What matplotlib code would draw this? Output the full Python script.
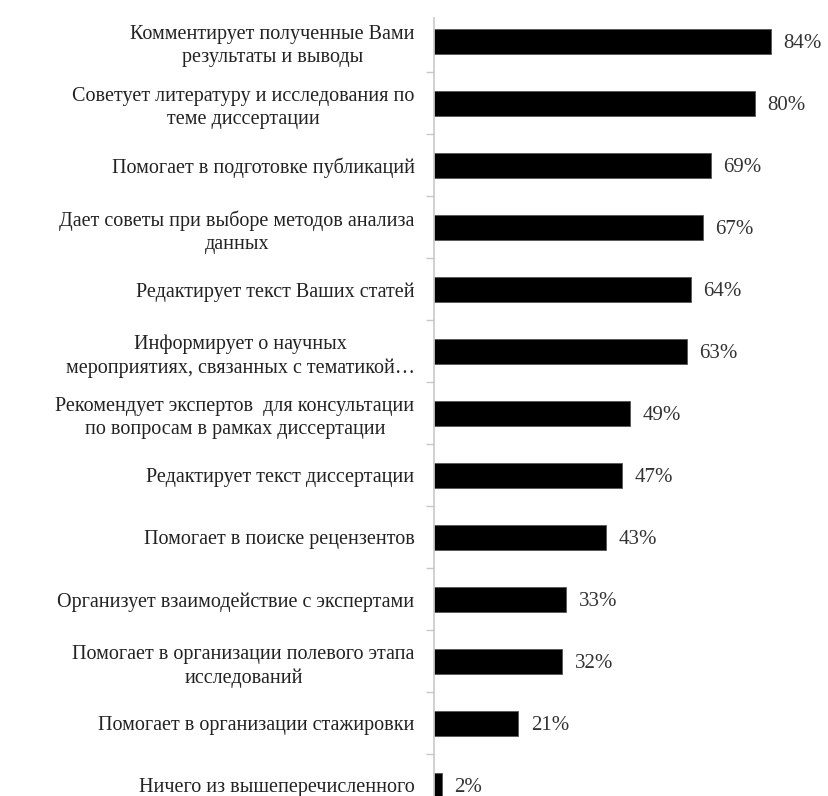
import matplotlib
matplotlib.use("Agg")
import matplotlib.pyplot as plt
import numpy as np

categories = [
    "Комментирует полученные Вами\nрезультаты и выводы",
    "Советует литературу и исследования по\nтеме диссертации",
    "Помогает в подготовке публикаций",
    "Дает советы при выборе методов анализа\nданных",
    "Редактирует текст Ваших статей",
    "Информирует о научных\nмероприятиях, связанных с тематикой…",
    "Рекомендует экспертов  для консультации\nпо вопросам в рамках диссертации",
    "Редактирует текст диссертации",
    "Помогает в поиске рецензентов",
    "Организует взаимодействие с экспертами",
    "Помогает в организации полевого этапа\nисследований",
    "Помогает в организации стажировки",
    "Ничего из вышеперечисленного",
]
values = [84, 80, 69, 67, 64, 63, 49, 47, 43, 33, 32, 21, 2]
value_labels = ["84%", "80%", "69%", "67%", "64%", "63%", "49%", "47%", "43%", "33%", "32%", "21%", "2%"]

plt.rcParams["font.family"] = ["Liberation Serif", "DejaVu Serif"]

W, H = 829, 796
fig = plt.figure(figsize=(W / 100, H / 100), dpi=100)
left_px, right_px, top_px, bot_px = 434, 829, 18, 796
ax = fig.add_axes([left_px / W, 1 - bot_px / H, (right_px - left_px) / W, (bot_px - top_px) / H])

y = np.arange(len(categories))
ax.barh(y, values, height=0.403, color="black", edgecolor="#555555", linewidth=0.6)
ax.set_xlim(0, (right_px - left_px) / 4.01)
ax.set_ylim(12.17, -0.379)

for yi, v, lab in zip(y, values, value_labels):
    ax.text(v + 3.1, yi + 0.04, lab, va="center", ha="left", fontsize=15, color="#333333")

ax.set_yticks(y)
ax.set_yticklabels(categories, fontsize=14.5, multialignment="center", linespacing=1.3, color="#222222")
ax.tick_params(axis="y", which="major", length=0, pad=14)
ax.set_yticks(y[:-1] + 0.5, minor=True)
ax.tick_params(axis="y", which="minor", length=6, width=1, color="#c8c8c8", direction="out")
ax.set_xticks([])
for s in ["top", "right", "bottom"]:
    ax.spines[s].set_visible(False)
ax.spines["left"].set_color("#c8c8c8")
ax.spines["left"].set_linewidth(1.2)

fig.savefig("out.png", dpi=100, facecolor="white")
